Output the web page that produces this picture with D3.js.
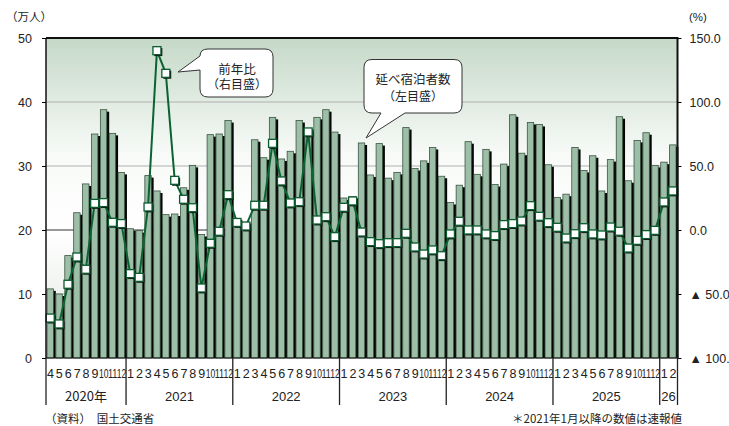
<!DOCTYPE html>
<html><head><meta charset="utf-8">
<script src="https://cdn.jsdelivr.net/npm/d3@7/dist/d3.min.js"></script>
<style>
body{margin:0;background:#fff;}
svg{display:block;}
text{font-family:"Liberation Sans",Arial,"Noto Sans CJK JP",sans-serif;fill:#222;}
.jp{font-family:"Noto Sans CJK JP","Liberation Sans",sans-serif;}
</style></head>
<body>
<svg id="c" width="729" height="426"></svg>
<script>
// ---- data ----
const monthLabels = ["4","5","6","7","8","9","10","11","12",
 "1","2","3","4","5","6","7","8","9","10","11","12",
 "1","2","3","4","5","6","7","8","9","10","11","12",
 "1","2","3","4","5","6","7","8","9","10","11","12",
 "1","2","3","4","5","6","7","8","9","10","11","12",
 "1","2","3","4","5","6","7","8","9","10","11","12",
 "1","2"];
const guests = [10.8,10.0,16.0,22.7,27.2,35.0,38.8,35.1,29.0,
 20.2,19.9,28.5,26.1,22.4,22.5,26.6,30.1,19.3,34.9,35.0,37.1,
 21.4,20.8,34.1,31.3,37.6,31.1,32.3,37.1,35.7,37.6,38.8,35.3,
 25.0,25.2,33.6,28.6,33.5,28.1,29.0,36.0,29.6,30.8,32.9,28.4,
 24.3,27.0,33.8,28.7,32.6,27.1,30.3,38.0,32.0,36.8,36.5,30.2,
 25.1,25.6,32.9,29.3,31.6,26.1,31.0,37.7,27.7,34.0,35.2,30.1,
 30.6,33.3];
const yoy = [-68.8,-73.4,-42.4,-21.1,-30.7,20.8,21.4,6.0,5.0,
 -34.1,-37.0,18.0,140.1,122.4,38.8,24.0,17.4,-45.3,-10.4,-1.0,27.6,
 5.9,3.1,19.3,19.3,67.7,38.3,21.1,22.1,76.6,7.8,10.4,-5.2,
 17.7,22.7,-1.6,-9.1,-10.7,-9.9,-9.9,-2.6,-13.3,-18.8,-15.6,-20.1,
 -3.1,6.8,0.0,0.0,-3.1,-4.4,4.2,5.0,7.0,19.0,10.7,5.7,
 2.1,-6.3,-2.9,1.8,-3.1,-3.9,2.3,-1.0,-14.1,-8.1,-3.6,-0.3,
 21.9,30.5];
const yearNames = ["2020年","2021","2022","2023","2024","2025","26"];
const yearCounts = [9,12,12,12,12,12,2];
const leftTicks = [0,10,20,30,40,50];
const rightTicks = [150,100,50,0,-50,-100];
const rightTickLabels = ["150.0","100.0","50.0","0.0","▲ 50.0","▲ 100.0"];

// ---- layout ----
const L=46, R=677.5, T=38, B=358;
const svg=d3.select("#c");
const idx=d3.range(guests.length);
const x=d3.scaleBand().domain(idx).range([L,R]).padding(0);
const yL=d3.scaleLinear().domain([0,50]).range([B,T]);
const yR=d3.scaleLinear().domain([-100,150]).range([B,T]);
const bw=6.4, boff=1.0;
const cx=i=>x(i)+boff+bw/2;

const defs=svg.append("defs");
const g=defs.append("linearGradient").attr("id","bg").attr("x1",0).attr("x2",0).attr("y1",0).attr("y2",1);
[[0,"#c5d9c8"],[0.36,"#f7faf7"],[0.6,"#ffffff"],[1,"#dfe6df"]].forEach(s=>g.append("stop").attr("offset",s[0]).attr("stop-color",s[1]));

svg.append("rect").attr("x",L).attr("y",T).attr("width",R-L).attr("height",B-T).attr("fill","url(#bg)");

// gridlines
svg.append("g").selectAll("line").data([10,20,30,40]).join("line")
 .attr("x1",L).attr("x2",R).attr("y1",d=>yL(d)).attr("y2",d=>yL(d))
 .attr("stroke",d=>d===20?"#333":"#b0b0b0").attr("stroke-width",d=>d===20?1.2:1);

// bar shadows
svg.append("g").selectAll("rect").data(guests).join("rect")
 .attr("x",(d,i)=>x(i)+boff+2.4).attr("y",d=>yL(d)+2).attr("width",bw).attr("height",d=>B-yL(d)-2)
 .attr("fill","#050505");
// bars
svg.append("g").selectAll("rect").data(guests).join("rect")
 .attr("x",(d,i)=>x(i)+boff).attr("y",d=>yL(d)).attr("width",bw).attr("height",d=>B-yL(d))
 .attr("fill","#9ebfa7").attr("stroke","#3a5442").attr("stroke-width",0.8);

// line
const line=d3.line().x((d,i)=>cx(i)).y(d=>yR(d));
svg.append("path").datum(yoy).attr("d",line).attr("fill","none").attr("stroke","#0b6331").attr("stroke-width",2);
const ms=8;
svg.append("g").selectAll("rect").data(yoy).join("rect")
 .attr("x",(d,i)=>cx(i)-ms/2+1.4).attr("y",d=>yR(d)-ms/2+1.4).attr("width",ms).attr("height",ms).attr("fill","#111");
svg.append("g").selectAll("rect").data(yoy).join("rect")
 .attr("x",(d,i)=>cx(i)-ms/2).attr("y",d=>yR(d)-ms/2).attr("width",ms).attr("height",ms)
 .attr("fill","#fff").attr("stroke","#0b5a2e").attr("stroke-width",1.3);

// frame
svg.append("line").attr("x1",L).attr("x2",R+1).attr("y1",T).attr("y2",T).attr("stroke","#111").attr("stroke-width",2);
svg.append("line").attr("x1",R).attr("x2",R).attr("y1",T).attr("y2",B).attr("stroke","#111").attr("stroke-width",2);
svg.append("line").attr("x1",L).attr("x2",L).attr("y1",T).attr("y2",B).attr("stroke","#111").attr("stroke-width",1.5);
svg.append("line").attr("x1",L).attr("x2",R).attr("y1",B).attr("y2",B).attr("stroke","#111").attr("stroke-width",1.2);

// left axis
const la=d3.axisLeft(yL).tickValues(leftTicks).tickSize(4).tickPadding(10).tickFormat(d3.format("d"));
const lg=svg.append("g").attr("transform",`translate(${L},0)`).call(la);
lg.select(".domain").remove();
lg.selectAll("text").style("font-size","12.5px").attr("fill","#222");
// right axis
const ra=d3.axisRight(yR).tickValues(rightTicks).tickSize(4).tickPadding(8).tickFormat((d,i)=>rightTickLabels[i]);
const rg=svg.append("g").attr("transform",`translate(${R},0)`).call(ra);
rg.select(".domain").remove();
rg.selectAll("text").style("font-size","12.5px").attr("fill","#222");

svg.append("text").attr("class","jp").attr("x",6).attr("y",21).style("font-size","11.5px").text("（万人）");
svg.append("text").attr("x",689).attr("y",21).style("font-size","11.5px").text("(%)");

// month labels
svg.append("g").selectAll("text").data(monthLabels).join("text")
 .attr("x",(d,i)=>x(i)+x.bandwidth()/2).attr("y",378).attr("text-anchor","middle")
 .style("font-size","12.5px")
 .attr("textLength",d=>d.length>1?9.5:null).attr("lengthAdjust","spacingAndGlyphs")
 .text(d=>d);

// year separators & labels
let acc=0; const bounds=[0];
yearCounts.forEach(c=>{acc+=c;bounds.push(acc);});
svg.append("g").selectAll("line").data(bounds).join("line")
 .attr("x1",d=>d>=guests.length?R:x(d)).attr("x2",d=>d>=guests.length?R:x(d))
 .attr("y1",B).attr("y2",405).attr("stroke","#222").attr("stroke-width",1.3);
svg.append("g").selectAll("text").data(yearNames).join("text")
 .attr("class",(d)=>d.includes("年")?"jp":null)
 .attr("x",(d,i)=>{const a=x(bounds[i]);const b=bounds[i+1]>=guests.length?R:x(bounds[i+1]);return (a+b)/2;})
 .attr("y",401).attr("text-anchor","middle").style("font-size","13px").text(d=>d);

// callouts
const c1=svg.append("g");
c1.append("path").attr("d","M208,49 H265 Q273,49 273,57 V89 Q273,97 265,97 H208 Q200,97 200,89 V70 L178,72 L200,56 Q200,49 208,49 Z")
 .attr("fill","#fff").attr("stroke","#333").attr("stroke-width",1);
c1.append("text").attr("class","jp").attr("x",237).attr("y",74).attr("text-anchor","middle").style("font-size","12.5px").text("前年比");
c1.append("text").attr("class","jp").attr("x",237).attr("y",89).attr("text-anchor","middle").style("font-size","12px").text("（右目盛）");

const c2=svg.append("g");
c2.append("path").attr("d","M372,59.5 H454 Q462,59.5 462,67.5 V105 Q462,113 454,113 H405 L366,138 L381,113 H372 Q364,113 364,105 V67.5 Q364,59.5 372,59.5 Z")
 .attr("fill","#fff").attr("stroke","#333").attr("stroke-width",1);
c2.append("text").attr("class","jp").attr("x",413).attr("y",84).attr("text-anchor","middle").style("font-size","12.5px").text("延べ宿泊者数");
c2.append("text").attr("class","jp").attr("x",413).attr("y",101).attr("text-anchor","middle").style("font-size","12px").text("（左目盛）");

// footer
svg.append("text").attr("class","jp").attr("x",45).attr("y",423).style("font-size","11.5px").attr("fill","#333").text("（資料）　国土交通省");
svg.append("text").attr("class","jp").attr("x",682).attr("y",423).attr("text-anchor","end").style("font-size","11.5px").attr("fill","#333").text("＊2021年1月以降の数値は速報値");
</script>
</body></html>
